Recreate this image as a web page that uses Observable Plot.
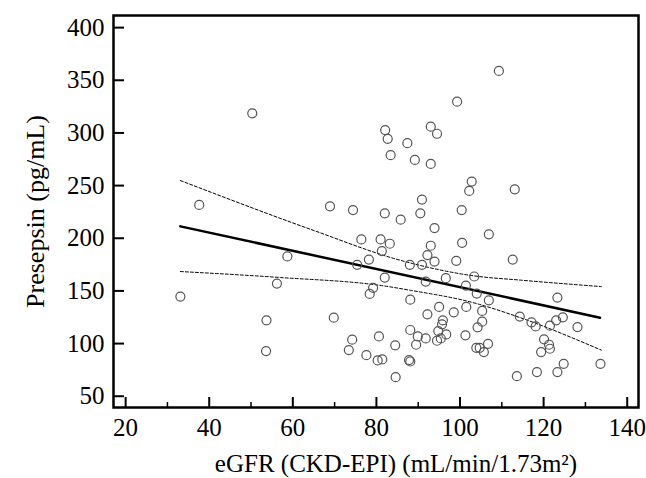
<!DOCTYPE html>
<html>
<head>
<meta charset="utf-8">
<script src="https://cdn.jsdelivr.net/npm/d3@7"></script>
<script src="https://cdn.jsdelivr.net/npm/@observablehq/plot@0.6"></script>
<style>
  html, body { margin: 0; padding: 0; background: #fff; }
</style>
</head>
<body>
<div id="chart"></div>
<script>
// eGFR (mL/min/1.73m²) of each patient
const egfr = [33.1,37.6,50.3,53.7,53.6,56.2,58.7,68.9,69.8,74.4,73.4,74.2,75.4,76.4,77.6,78.2,78.4,79.2,80.6,80.3,
  81.4,81.0,81.3,82.0,82.0,82.1,82.7,83.4,83.2,84.5,84.6,85.8,87.4,88.0,88.1,88.1,87.8,88.1,89.2,89.5,
  89.9,90.5,90.9,90.9,91.8,91.8,92.2,92.2,93.0,93.0,93.0,93.9,93.9,94.5,95.0,94.8,94.5,95.4,95.7,95.9,
  96.7,96.6,98.5,99.3,99.1,100.4,100.5,101.3,101.4,101.5,102.2,102.8,103.4,104.0,104.2,103.9,104.7,105.3,105.3,105.7,
  106.7,106.9,106.9,109.3,112.6,113.1,113.6,114.3,117.1,118.1,118.4,119.4,120.1,121.3,121.5,121.5,123.0,123.3,123.3,124.6,
  124.8,128.1,133.6];
// Presepsin (pg/mL) of each patient
const presepsin = [144.6,231.6,318.6,122.1,92.9,157.0,182.7,230.3,124.6,226.8,93.8,103.7,174.8,198.9,89.0,179.8,147.1,152.9,106.8,84.0,
  84.9,198.9,187.8,223.7,162.7,302.7,294.4,278.9,194.8,98.3,68.1,217.6,290.3,174.8,141.7,112.9,84.3,83.0,274.4,98.9,
  106.8,223.7,236.7,174.8,158.9,104.9,127.8,184.0,305.9,270.6,192.9,209.7,177.9,299.2,134.8,111.9,102.7,104.9,118.3,122.1,
  108.7,162.1,129.7,329.7,178.6,226.8,195.7,107.8,155.1,134.8,244.9,253.8,163.7,147.5,115.4,96.0,96.0,131.0,120.8,91.9,
  99.8,203.7,141.1,358.9,179.8,246.5,69.0,125.6,120.2,116.3,72.9,91.9,104.0,98.9,95.1,117.0,122.1,143.7,72.9,124.9,
  80.8,115.7,80.8];

// Regression line
const fitX = [33.1, 133.5];
const fitY = [211.3, 124.6];
// 95% confidence limits
const upperX = [33.1, 65.2, 85.6, 103.3, 114.6, 133.8];
const upperY = [254.8, 207.1, 179.2, 164.3, 160.2, 154.1];
const lowerX = [33.1, 57.1, 81.7, 88.1, 103.1, 114.4, 133.8];
const lowerY = [168.4, 162.7, 154.8, 150.6, 138.9, 124.6, 93.8];

// Axis ticks
const xTicks = [20, 40, 60, 80, 100, 120, 140];
const xMinorTicks = [30, 50, 70, 90, 110, 130];
const yTicks = [50, 100, 150, 200, 250, 300, 350, 400];

const xTitle = "eGFR (CKD-EPI) (mL/min/1.73m²)";
const yTitle = "Presepsin (pg/mL)";

const points = egfr.map((x, i) => ({x, y: presepsin[i]}));
const fit = fitX.map((x, i) => ({x, y: fitY[i]}));
const upper = upperX.map((x, i) => ({x, y: upperY[i]}));
const lower = lowerX.map((x, i) => ({x, y: lowerY[i]}));

const W = 646, H = 478;
const mL = 113, mR = 8, mT = 15, mB = 71;
const plotW = W - mL - mR, plotH = H - mT - mB;
const font = "'Liberation Serif', 'Times New Roman', serif";
const fs = 25;

const chart = Plot.plot({
  width: W,
  height: H,
  marginLeft: mL,
  marginRight: mR,
  marginTop: mT,
  marginBottom: mB,
  style: {fontFamily: font, fontSize: fs + "px", background: "#fff", color: "#000"},
  x: {domain: [17.1, 142.7]},
  y: {domain: [39.3, 411.5]},
  marks: [
    Plot.axisX(xTicks, {tickSize: 0, tickPadding: 11, fontSize: fs, label: null}),
    Plot.axisY(yTicks, {tickSize: 0, tickPadding: 9, fontSize: fs, label: null}),
    Plot.tickY(yTicks, {y: d => d, insetRight: plotW - 11, stroke: "#000", strokeWidth: 2}),
    Plot.tickX(xTicks, {x: d => d, insetTop: plotH - 10, stroke: "#000", strokeWidth: 2}),
    Plot.tickX(xMinorTicks, {x: d => d, insetTop: plotH - 5, stroke: "#000", strokeWidth: 1.5}),
    Plot.line(upper, {x: "x", y: "y", curve: "monotone-x", stroke: "#000", strokeWidth: 1, strokeDasharray: "3,2"}),
    Plot.line(lower, {x: "x", y: "y", curve: "monotone-x", stroke: "#000", strokeWidth: 1, strokeDasharray: "3,2"}),
    Plot.line(fit, {x: "x", y: "y", stroke: "#000", strokeWidth: 2.5}),
    Plot.dot(points, {x: "x", y: "y", r: 4.5, stroke: "#555", strokeWidth: 1.2, fill: "none"}),
    Plot.frame({stroke: "#000", strokeWidth: 2.5}),
    Plot.text([xTitle], {frameAnchor: "bottom", dy: 64, dx: 20, fontSize: fs, text: d => d}),
    Plot.text([yTitle], {frameAnchor: "left", textAnchor: "middle", dx: -78, rotate: -90, fontSize: fs + 1, text: d => d})
  ]
});
document.getElementById("chart").append(chart);
</script>
</body>
</html>
